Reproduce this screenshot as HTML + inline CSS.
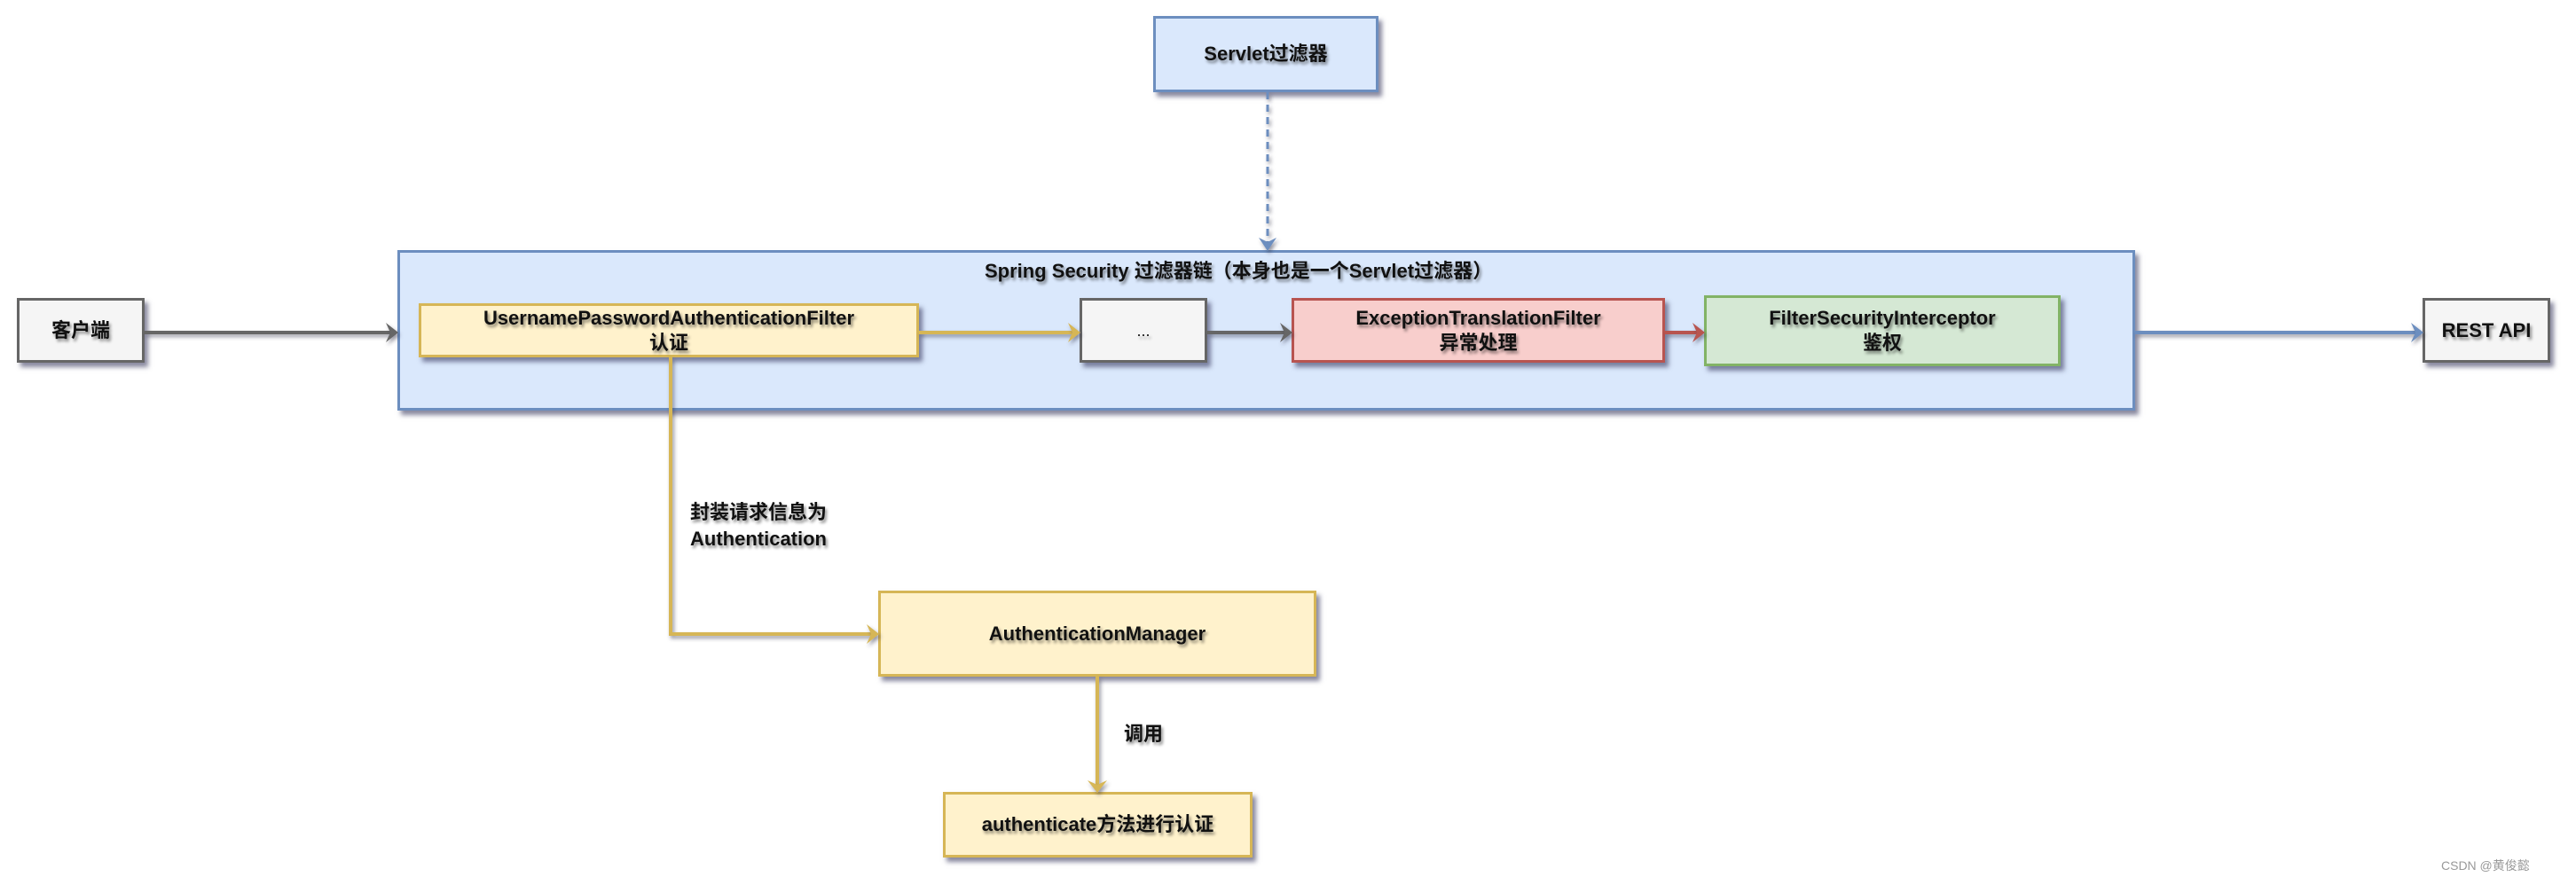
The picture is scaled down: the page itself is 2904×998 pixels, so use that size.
<!DOCTYPE html>
<html><head><meta charset="utf-8"><style>
body{margin:0;width:2904px;height:998px;background:#fff;position:relative;overflow:hidden;font-family:"Liberation Sans","Noto Sans CJK SC",sans-serif;}
.b{position:absolute;box-sizing:border-box;border:3px solid;display:flex;align-items:center;justify-content:center;text-align:center;font-weight:bold;font-size:22px;line-height:28px;color:#111;box-shadow:4px 5px 5px rgba(40,40,80,.55);text-shadow:2px 3px 3px rgba(0,0,0,.45);}
.blue{background:#dae8fc;border-color:#6c8ebf}
.yel{background:#fff2cc;border-color:#d6b656}
.red{background:#f8cecc;border-color:#b85450}
.grn{background:#d5e8d4;border-color:#82b366}
.gry{background:#f5f5f5;border-color:#666}
.t{position:absolute;font-weight:bold;font-size:22px;line-height:30px;color:#111;text-shadow:2px 3px 3px rgba(0,0,0,.45);white-space:nowrap}
svg{position:absolute;left:0;top:0}
</style></head><body>
<div class="b blue" style="left:1300px;top:18px;width:254px;height:86px">Servlet过滤器</div>
<div class="b blue" style="left:448px;top:282px;width:1959px;height:181px"></div>
<div class="t" style="left:1110px;top:291px">Spring Security 过滤器链（本身也是一个Servlet过滤器）</div>
<div class="b gry" style="left:19px;top:336px;width:144px;height:73px">客户端</div>
<div class="b yel" style="left:472px;top:342px;width:564px;height:61px">UsernamePasswordAuthenticationFilter<br>认证</div>
<div class="b gry" style="left:1217px;top:336px;width:144px;height:73px;font-weight:normal;font-size:18px">...</div>
<div class="b red" style="left:1456px;top:336px;width:421px;height:73px">ExceptionTranslationFilter<br>异常处理</div>
<div class="b grn" style="left:1921px;top:333px;width:402px;height:80px">FilterSecurityInterceptor<br>鉴权</div>
<div class="b gry" style="left:2731px;top:336px;width:144px;height:73px">REST API</div>
<div class="b yel" style="left:990px;top:666px;width:494px;height:97px">AuthenticationManager</div>
<div class="b yel" style="left:1063px;top:893px;width:349px;height:74px">authenticate方法进行认证</div>
<div class="t" style="left:778px;top:563px;line-height:30px">封装请求信息为<br>Authentication</div>
<div class="t" style="left:1267px;top:813px">调用</div>
<div style="position:absolute;left:2752px;top:966px;font-size:14px;color:#999">CSDN @黄俊懿</div>
<svg width="2904" height="998">
<defs><filter id="s" x="-5%" y="-50%" width="110%" height="200%"><feDropShadow dx="2" dy="3" stdDeviation="2" flood-color="#334" flood-opacity=".5"/></filter></defs>
<g fill="none" stroke-width="4" filter="url(#s)">
<line x1="163" y1="375" x2="440" y2="375" stroke="#666"/>
<line x1="1036" y1="375" x2="1209" y2="375" stroke="#d6b656"/>
<line x1="1361" y1="375" x2="1448" y2="375" stroke="#666"/>
<line x1="1877" y1="375" x2="1913" y2="375" stroke="#b85450"/>
<line x1="2407" y1="375" x2="2723" y2="375" stroke="#6c8ebf"/>
<line x1="1429" y1="104" x2="1429" y2="274" stroke="#6c8ebf" stroke-dasharray="8,6" stroke-width="3"/>
<polyline points="756,403 756,715 982,715" stroke="#d6b656"/>
<line x1="1237" y1="763" x2="1237" y2="885" stroke="#d6b656"/>
</g>
<g filter="url(#s)">
<polygon points="449,375 435,364 440,375 435,386" fill="#666"/>
<polygon points="1218,375 1204,364 1209,375 1204,386" fill="#d6b656"/>
<polygon points="1457,375 1443,364 1448,375 1443,386" fill="#666"/>
<polygon points="1922,375 1908,364 1913,375 1908,386" fill="#b85450"/>
<polygon points="2732,375 2718,364 2723,375 2718,386" fill="#6c8ebf"/>
<polygon points="1429,283 1419,268 1429,273 1439,268" fill="#6c8ebf"/>
<polygon points="991,715 977,704 982,715 977,726" fill="#d6b656"/>
<polygon points="1237,894 1226,880 1237,885 1248,880" fill="#d6b656"/>
</g>
</svg>
</body></html>
